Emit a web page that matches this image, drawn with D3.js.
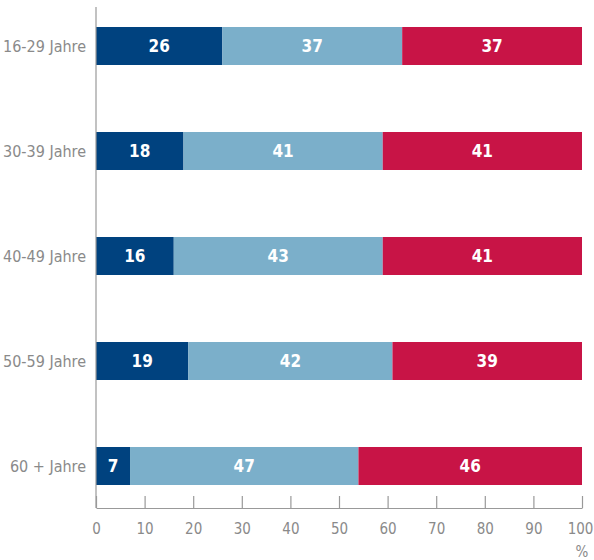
<!DOCTYPE html>
<html>
<head>
<meta charset="utf-8">
<script src="https://cdn.jsdelivr.net/npm/d3@7"></script>
<style>
  html, body { margin: 0; padding: 0; background: #fff; }
  svg { display: block; }
  .cond { font-family: "Liberation Sans Narrow", "DejaVu Sans Condensed", "Open Sans", sans-serif; }
</style>
</head>
<body>
<svg id="chart" width="594" height="560"></svg>
<script>
// Age groups and the three shares (in %) for each group
const categories = ["16-29 Jahre", "30-39 Jahre", "40-49 Jahre", "50-59 Jahre", "60 + Jahre"];
const seriesA = [26, 18, 16, 19, 7];
const seriesB = [37, 41, 43, 42, 47];
const seriesC = [37, 41, 41, 39, 46];
const xTicks = [0, 10, 20, 30, 40, 50, 60, 70, 80, 90, 100];
const colors = ["#00427f", "#7bafca", "#c81446"];

const svg = d3.select("#chart");
const x = d3.scaleLinear().domain([0, 100]).range([96, 582]);
const y = d3.scalePoint().domain(categories).range([46, 466]);
const barH = 38;
const axisY = 508;

const rows = categories.map((c, i) => {
  const vals = [seriesA[i], seriesB[i], seriesC[i]];
  let acc = 0;
  return { cat: c, segs: vals.map((v, k) => { const s = { v, x0: acc, x1: acc + v, k }; acc += v; return s; }) };
});

const g = svg.append("g");
const row = g.selectAll("g.row").data(rows).join("g").attr("class", "row");

row.selectAll("rect").data(d => d.segs.map(s => ({ ...s, cat: d.cat }))).join("rect")
  .attr("x", d => x(d.x0))
  .attr("width", d => x(d.x1) - x(d.x0))
  .attr("y", d => y(d.cat) - barH / 2)
  .attr("height", barH)
  .attr("fill", d => colors[d.k]);

row.selectAll("text.val").data(d => d.segs.map(s => ({ ...s, cat: d.cat }))).join("text")
  .attr("class", "val cond")
  .attr("x", d => (x(d.x0) + x(d.x1)) / 2)
  .attr("y", d => y(d.cat))
  .attr("dy", "0.36em")
  .attr("text-anchor", "middle")
  .attr("fill", "#fff")
  .attr("font-size", 17)
  .attr("font-weight", "bold")
  .text(d => d.v);

// Category labels
g.selectAll("text.cat").data(categories).join("text")
  .attr("class", "cat cond")
  .attr("x", 86)
  .attr("y", d => y(d))
  .attr("dy", "0.36em")
  .attr("text-anchor", "end")
  .attr("fill", "#8a8a8a")
  .attr("font-size", 16)
  .text(d => d);

// Vertical baseline
g.append("line")
  .attr("x1", x(0)).attr("x2", x(0))
  .attr("y1", 7).attr("y2", axisY)
  .attr("stroke", "#999").attr("stroke-width", 1.2);

// Bottom axis with inward ticks
const xAxis = d3.axisBottom(x).tickValues(xTicks).tickSize(-12).tickPadding(15).tickSizeOuter(0);
const ax = svg.append("g").attr("transform", `translate(0,${axisY})`).call(xAxis);
ax.select(".domain").attr("stroke", "#999").attr("stroke-width", 1.2);
ax.selectAll(".tick line").attr("stroke", "#999").attr("stroke-width", 1.2);
ax.selectAll(".tick text")
  .attr("class", "cond")
  .attr("fill", "#8a8a8a")
  .attr("font-size", 15)
  .attr("dx", d => d === 100 ? -2 : 0);

svg.append("text")
  .attr("class", "cond")
  .attr("x", x(100))
  .attr("y", 557)
  .attr("text-anchor", "middle")
  .attr("fill", "#8a8a8a")
  .attr("font-size", 15)
  .text("%");
</script>
</body>
</html>
